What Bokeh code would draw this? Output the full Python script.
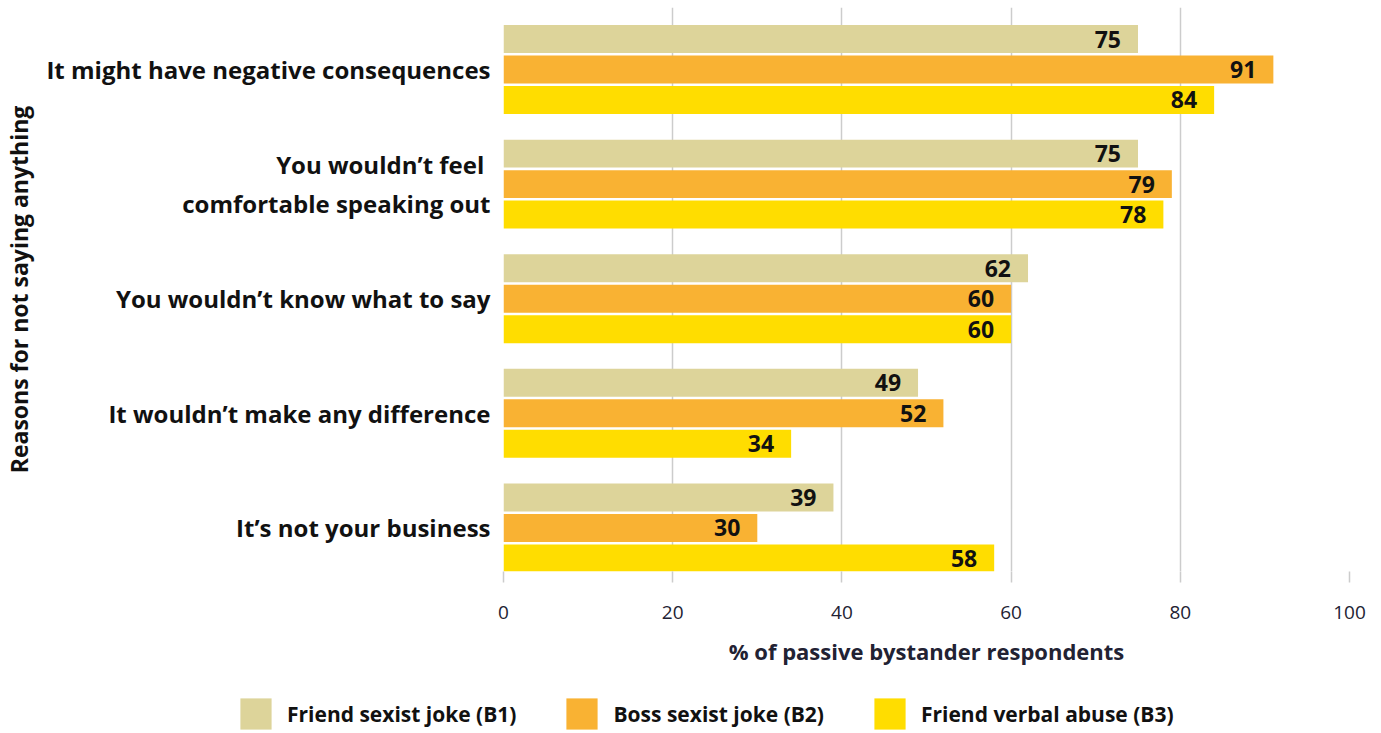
from bokeh.plotting import figure
from bokeh.models import Range1d, FixedTicker, ColumnDataSource, Legend, LegendItem
from bokeh.embed import file_html
from bokeh.resources import INLINE
from bokeh.core.properties import value
from bokeh.transform import dodge

# ---- data ----
categories = [
    "It might have negative consequences",
    "You wouldn\u2019t feel \ncomfortable speaking out",
    "You wouldn\u2019t know what to say",
    "It wouldn\u2019t make any difference",
    "It\u2019s not your business",
]
series = ["Friend sexist joke (B1)", "Boss sexist joke (B2)", "Friend verbal abuse (B3)"]
b1 = [75, 75, 62, 49, 39]
b2 = [91, 79, 60, 52, 30]
b3 = [84, 78, 60, 34, 58]
x_ticks = [0, 20, 40, 60, 80, 100]
colors = ["#DDD49A", "#F9B233", "#FFDD00"]

FONT = "Open Sans"

p = figure(
    width=1381, height=693,
    x_range=Range1d(0, 100), y_range=Range1d(4.38, -0.541),
    output_backend="svg", toolbar_location=None,
    min_border_left=503, min_border_right=32, min_border_top=7, min_border_bottom=122,
)
p.outline_line_color = None
p.background_fill_color = "white"
p.border_fill_color = "white"

ypos = list(range(len(categories)))
offsets = [-0.266, 0.0, 0.266]
sources = []
for vals, off, col in zip([b1, b2, b3], offsets, colors):
    src = ColumnDataSource(dict(y=ypos, v=vals, lab=[str(v) for v in vals]))
    sources.append(src)
    p.hbar(y=dodge("y", off), left=0, right="v", height=0.244, source=src,
           fill_color=col, line_color=None)
    p.text(x="v", y=dodge("y", off), text="lab", source=src,
           text_align="right", text_baseline="middle", x_offset=-17,
           text_font=value(FONT), text_font_style="bold", text_font_size="23px",
           text_color="#111111")

# x axis
p.xaxis.ticker = FixedTicker(ticks=x_ticks)
p.xaxis.axis_line_color = None
p.xaxis.major_tick_line_color = "#cccccc"
p.xaxis.major_tick_line_width = 1.5
p.xaxis.major_tick_out = 11
p.xaxis.major_tick_in = 0
p.xaxis.minor_tick_line_color = None
p.xaxis.major_label_standoff = 23
p.xaxis.major_label_text_font = FONT
p.xaxis.major_label_text_font_size = "19px"
p.xaxis.major_label_text_color = "#222233"
p.xaxis.axis_label = "% of passive bystander respondents"
p.xaxis.axis_label_text_font = FONT
p.xaxis.axis_label_text_font_style = "bold"
p.xaxis.axis_label_text_font_size = "22px"
p.xaxis.axis_label_text_color = "#222233"
p.xaxis.axis_label_standoff = 14

p.xgrid.ticker = FixedTicker(ticks=x_ticks)
p.xgrid.grid_line_color = "#cccccc"
p.xgrid.grid_line_width = 1.5
p.ygrid.visible = False

# y axis
p.yaxis.ticker = FixedTicker(ticks=ypos)
p.yaxis.major_label_overrides = {i: c for i, c in zip(ypos, categories)}
p.yaxis.axis_line_color = None
p.yaxis.major_tick_line_color = None
p.yaxis.minor_tick_line_color = None
p.yaxis.major_tick_out = 0
p.yaxis.major_tick_in = 0
p.yaxis.major_label_standoff = 13
p.yaxis.major_label_text_font = FONT
p.yaxis.major_label_text_font_style = "bold"
p.yaxis.major_label_text_font_size = "24px"
p.yaxis.major_label_text_color = "#111111"
p.yaxis.axis_label = "Reasons for not saying anything"
p.yaxis.axis_label_text_font = FONT
p.yaxis.axis_label_text_font_style = "bold"
p.yaxis.axis_label_text_font_size = "23px"
p.yaxis.axis_label_text_color = "#111111"
p.yaxis.axis_label_standoff = 8

# ---- legend strip (separate root below the chart) ----
lg = figure(
    width=1381, height=40, x_range=Range1d(0, 100), y_range=Range1d(0, 1),
    output_backend="svg", toolbar_location=None,
    min_border_left=0, min_border_right=0, min_border_top=0, min_border_bottom=0,
    x_axis_type=None, y_axis_type=None,
)
lg.outline_line_color = None
lg.xgrid.visible = False
lg.ygrid.visible = False
lg_renderers = []
for src, col in zip(sources, colors):
    r = lg.hbar(y="y", left=0, right="v", height=0.5, source=src,
                fill_color=col, line_color=None, visible=False)
    lg_renderers.append(r)

legend = Legend(
    items=[LegendItem(label=s, renderers=[r]) for s, r in zip(series, lg_renderers)],
    location=(236, 0), orientation="horizontal",
    glyph_width=39, glyph_height=39, label_standoff=12, spacing=46,
    padding=0, margin=0, border_line_color=None, background_fill_alpha=0,
    inactive_fill_alpha=0,
    label_text_font=FONT, label_text_font_style="bold", label_text_font_size="21px",
    label_text_color="#111111", label_text_baseline="middle",
)
lg.add_layout(legend)

open("out.html", "w").write(file_html([p, lg], INLINE))
